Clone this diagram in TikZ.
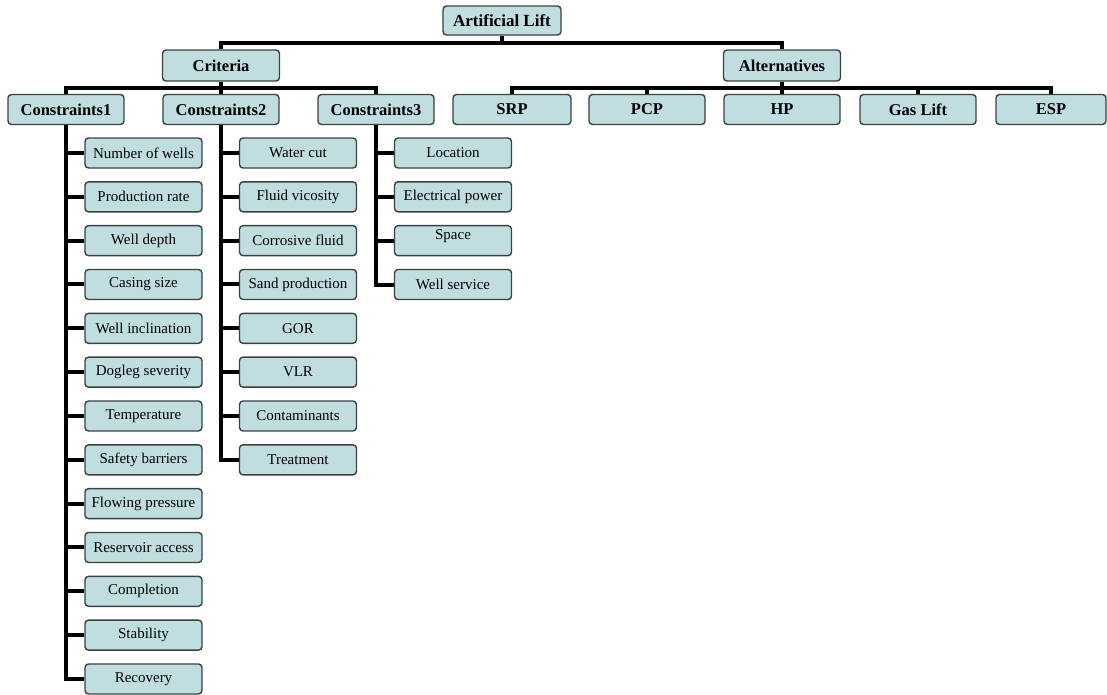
\documentclass[tikz,border=0pt]{standalone}
\usepackage{fontspec}
\setmainfont{Liberation Serif}
\definecolor{boxfill}{RGB}{192,221,224}
\definecolor{boxline}{RGB}{60,64,64}
\newcommand\myhead{\fontsize{16.5}{18}\selectfont\bfseries}
\newcommand\mytop{\fontsize{17}{19}\selectfont\bfseries}
\newcommand\myleaf{\fontsize{15}{17}\selectfont}
\tikzset{
  box/.style={draw=boxline, line width=1.4pt, fill=boxfill, rounded corners=3.5pt, inner sep=0pt, anchor=center},
  headbox/.style={box, minimum width=116pt, minimum height=30pt, font=\myhead},
  leafbox/.style={box, minimum width=117pt, minimum height=30pt, font=\myleaf},
  link/.style={line width=4pt, black},
}
\begin{document}
\begin{tikzpicture}[x=1pt,y=-1pt]
\useasboundingbox (0,0) rectangle (1107,694);
% top levels
\node[headbox, font=\mytop, minimum width=118pt, minimum height=29pt] (al) at (502,20.5) {Artificial Lift};
\node[headbox, minimum width=117pt, minimum height=31pt] (crit) at (221,65.5) {Criteria};
\node[headbox, minimum width=117pt, minimum height=31pt] (alt) at (782,65.5) {Alternatives};
\node[headbox] (c1) at (66,109.5) {Constraints1};
\node[headbox] (c2) at (221,109.5) {Constraints2};
\node[headbox] (c3) at (376,109.5) {Constraints3};
\node[headbox, minimum width=118pt] (srp) at (512,109.5) {SRP};
\node[headbox] (pcp) at (647,109.5) {PCP};
\node[headbox] (hp) at (782,109.5) {HP};
\node[headbox] (gas) at (918,109.5) {Gas Lift};
\node[headbox, minimum width=110pt] (esp) at (1051,109.5) {ESP};
% Constraints1 leaves
\foreach \t [count=\i from 0] in {Number of wells, Production rate, Well depth, Casing size, Well inclination, Dogleg severity, Temperature, Safety barriers, Flowing pressure, Reservoir access, Completion, Stability, Recovery}{
  \node[leafbox] (a\i) at (143.5,153+\i*43.83) {\t};
}
% Constraints2 leaves
\foreach \t [count=\i from 0] in {Water cut, Fluid vicosity, Corrosive fluid, Sand production, GOR, VLR, Contaminants, Treatment}{
  \node[leafbox] (b\i) at (298,153+\i*43.83) {\t};
}
% Constraints3 leaves
\node[leafbox] (d0) at (453,153) {Location};
\node[leafbox] (d1) at (453,196.83) {Electrical power};
\node[leafbox] (d2) at (453,240.66) {};
\node[font=\myleaf, anchor=center] (d2t) at (453,236) {Space};
\node[leafbox] (d3) at (453,284.5) {Well service};
% connectors top
\coordinate (j1) at (502,43);
\coordinate (j2) at (221,88);
\coordinate (j3) at (782,88);
\draw[link] (al.south) -- (j1);
\draw[link] (crit.north) |- (j1) -| (alt.north);
\draw[link] (crit.south) -- (c2.north);
\draw[link] (c1.north) |- (j2) -| (c3.north);
\draw[link] (alt.south) -- (hp.north);
\draw[link] (srp.north) |- (j3) -| (esp.north);
\draw[link] (pcp.north) -- (pcp.north |- j3);
\draw[link] (gas.north) -- (gas.north |- j3);
% leaf connectors
\draw[link] (c1.south) |- (a12.west);
\foreach \i in {0,...,11} { \draw[link] (a\i.west) -- (a\i.west -| c1.south); }
\draw[link] (c2.south) |- (b7.west);
\foreach \i in {0,...,6} { \draw[link] (b\i.west) -- (b\i.west -| c2.south); }
\draw[link] (c3.south) |- (d3.west);
\foreach \i in {0,1,2} { \draw[link] (d\i.west) -- (d\i.west -| c3.south); }
\end{tikzpicture}
\end{document}
